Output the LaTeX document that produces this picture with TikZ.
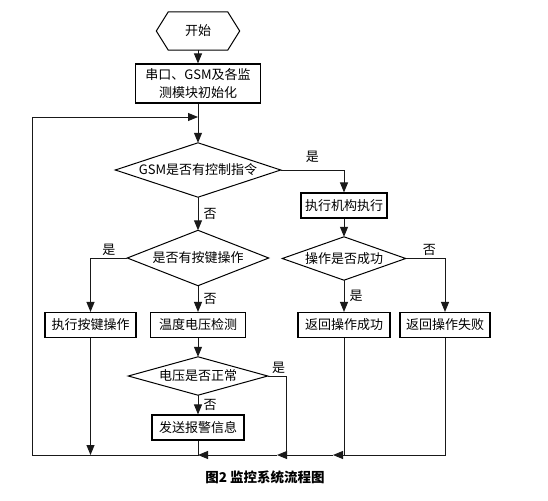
\documentclass[tikz,border=0pt]{standalone}
\usepackage{fontspec}
\setmainfont{Noto Sans CJK SC}
\usepackage{tikz}
\usetikzlibrary{arrows.meta, calc}
\newcommand{\flowfont}{\fontsize{13}{18}\selectfont}
\newcommand{\termnode}[5]{%
    \node (#1) at #2 [minimum width=#3, minimum height=#4, inner sep=0pt, font=\flowfont] {#5};
    % Hexagon outline round the text
    \draw[line width=1pt] (#1.west) -- ($(#1.north west)+(12,0)$) -- ($(#1.north east)+(-12,0)$)
        -- (#1.east) -- ($(#1.south east)+(-12,0)$) -- ($(#1.south west)+(12,0)$) -- cycle;
}
\newcommand{\decnode}[5]{%
    \node (#1) at #2 [minimum width=#3, minimum height=#4, inner sep=0pt, font=\flowfont] {#5};
    % Diamond outline through the four side anchors
    \draw[line width=1pt] (#1.north) -- (#1.east) -- (#1.south) -- (#1.west) -- cycle;
}

\begin{document}
\begin{tikzpicture}[
        x=1pt, y=-1pt,
        >={Triangle[length=10pt, width=8pt]},
        line_style/.style={line width=1pt, draw=black!90},
        arrow_style/.style={->, line width=1pt, draw=black!90},
        box_style/.style={draw, line width=1.1pt, minimum height=25pt, inner sep=1pt, font=\flowfont},
        label_style/.style={font=\flowfont, inner sep=2pt}
    ]
    \useasboundingbox (0,0) rectangle (548,500);

    % =========================================================================
    % 1. NODE PLACEMENTS (pixel grid of the figure, y pointing down)
    % =========================================================================

    % Main column (x = 198)
    \termnode{start}{(198,31)}{83pt}{38pt}{开始}
    \node[box_style, minimum width=125pt, minimum height=39pt, align=center] (init) at (198,83.5) {串口、GSM及各监\\测模块初始化};
    \decnode{gsm}{(198,170)}{165pt}{54pt}{GSM是否有控制指令}
    \decnode{key}{(198,258)}{141pt}{55pt}{是否有按键操作}
    \node[box_style, minimum width=95pt] (detect) at (198,325) {温度电压检测};
    \decnode{volt}{(198,376)}{139pt}{38pt}{电压是否正常}
    \node[box_style, minimum width=92pt] (alarm) at (198,427.5) {发送报警信息};

    % Left branch
    \node[box_style, minimum width=91pt] (dokey) at (90.5,325) {执行按键操作};

    % Right column (x = 344)
    \node[box_style, minimum width=86pt] (act) at (344,205.5) {执行机构执行};
    \decnode{succ}{(344,258.5)}{123pt}{43pt}{操作是否成功}
    \node[box_style, minimum width=92pt] (retok) at (344,325) {返回操作成功};
    \node[box_style, minimum width=90pt] (retfail) at (445,325) {返回操作失败};

    % Caption
    \node[font=\fontsize{13.5}{16}\selectfont\bfseries] (caption) at (265,477) {图2\ 监控系统流程图};

    % Return path coordinates
    \coordinate (loopTop) at (32,117);
    \coordinate (loopIn) at (198,117);
    \coordinate (loopBtm) at (32,455);
    \coordinate (keyBtm) at (90.5,455);
    \coordinate (alarmBtm) at (198,455);
    \coordinate (voltBtm) at (286,455);
    \coordinate (voltTip) at (277,455);
    \coordinate (okBtm) at (344,455);
    \coordinate (okTip) at (333,455);


    % =========================================================================
    % 2. CONNECTORS (forward flow)
    % =========================================================================
    \draw[arrow_style] (start.south) -- (init.north);
    \draw[arrow_style] (init.south) -- (gsm.north);

    \draw[arrow_style] (gsm.east) -| (act.north) node[label_style, pos=0.25, above=5pt] {是};
    \draw[arrow_style] (gsm.south) -- (key.north) node[label_style, midway, right=3pt] {否};

    \draw[arrow_style] (key.west) -| (dokey.north) node[label_style, pos=0.25, above] {是};
    \draw[arrow_style] (key.south) -- (detect.north) node[label_style, midway, right=3pt] {否};

    \draw[arrow_style] (act.south) -- (succ.north);
    \draw[arrow_style] (succ.east) -| (retfail.north) node[label_style, pos=0.3, above] {否};
    \draw[arrow_style] (succ.south) -- (retok.north) node[label_style, midway, right=3pt] {是};

    \draw[arrow_style] (detect.south) -- (volt.north);
    \draw[arrow_style] (volt.south) -- (alarm.north) node[label_style, midway, right=3pt] {否};


    % =========================================================================
    % 3. RETURN PATHS (bottom bus and loop back)
    % =========================================================================
    \draw[line_style] (volt.east) -| (voltBtm) node[label_style, pos=0.3, above] {是};
    \draw[line_style] (retok.south) -- (okBtm);
    \draw[arrow_style] (retfail.south) |- (okTip);
    \draw[arrow_style] (okTip) -- (voltTip);
    \draw[arrow_style] (voltTip) -- (alarmBtm);
    \draw[arrow_style] (dokey.south) -- (keyBtm);
    \draw[arrow_style] (alarm.south) -- (alarmBtm) -- (loopBtm) -- (loopTop) -- (loopIn);

\end{tikzpicture}
\end{document}
